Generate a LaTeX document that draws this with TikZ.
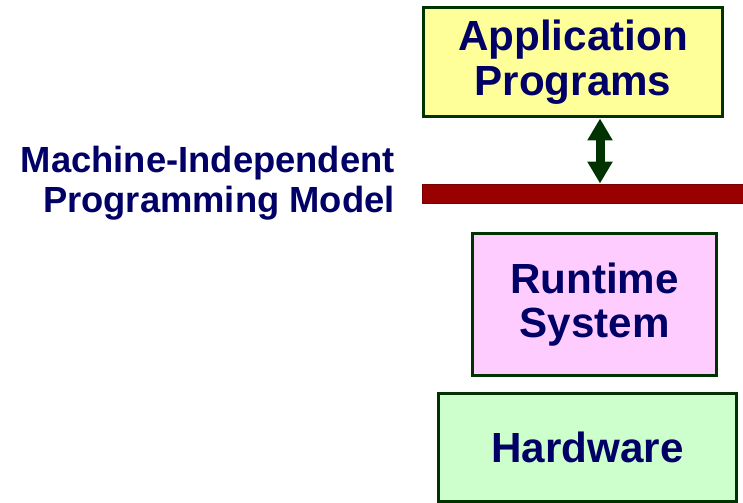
\documentclass[tikz,border=0pt]{standalone}
\usepackage{fontspec}
\setmainfont{Liberation Sans}
\usetikzlibrary{positioning,arrows.meta}

\definecolor{navy}{HTML}{000066}
\definecolor{boxline}{HTML}{003300}
\definecolor{appfill}{HTML}{FFFF99}
\definecolor{rtsfill}{HTML}{FFCCFF}
\definecolor{hwfill}{HTML}{CCFFCC}
\definecolor{barfill}{HTML}{990000}
\definecolor{barline}{HTML}{7A0000}

\begin{document}
\begin{tikzpicture}[x=0.02cm, y=-0.02cm,
                    >={Triangle[width=0.48cm,length=0.44cm]},
                    layer/.style={rectangle,draw=boxline,line width=0.06cm,text=navy,
                                  align=center,font=\bfseries\fontsize{24}{25.5}\selectfont}]
  \useasboundingbox (0,0) rectangle (743,503);

  % software layers, top to bottom
  \node[layer,fill=appfill,minimum width=6cm,minimum height=2.2cm] (app) at (573,62) {Application\\Programs};
  \node[layer,fill=rtsfill,minimum width=4.9cm,minimum height=2.86cm] (rts) at (594.5,304.5) {Runtime\\System};
  \node[layer,fill=hwfill,minimum width=5.98cm,minimum height=2.18cm] (hw) at (587.5,447.5) {Hardware};

  % the programming model boundary
  \node[rectangle,fill=barfill,draw=barline,line width=0.02cm,minimum width=6.46cm,minimum height=0.4cm,
        inner sep=0pt] (model) at (583.5,194) {};
  \node[text=navy,align=right,anchor=east,inner sep=0pt,
        font=\bfseries\fontsize{20.7}{22.8}\selectfont] (label) at (395,183) {Machine-Independent\\Programming Model};

  \coordinate (link) at (600,0);
  \draw[<->,boxline,line width=0.18cm] (app.south -| link) -- (model.north -| link);
\end{tikzpicture}
\end{document}
